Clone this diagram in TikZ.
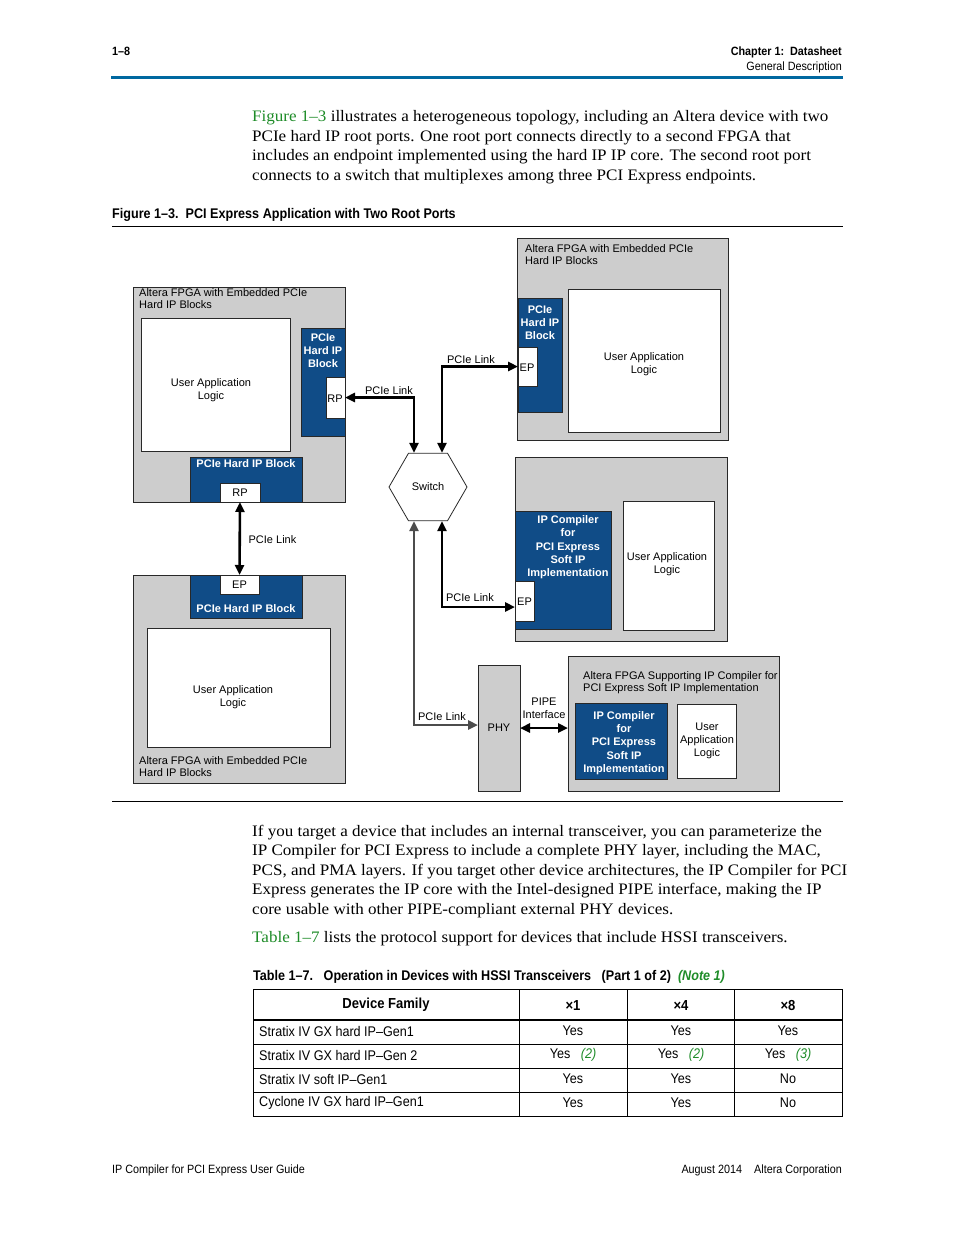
\documentclass[tikz,border=0pt]{standalone}
\usepackage{fontspec}
\setmainfont[FakeStretch=1.065]{Liberation Serif}
\newfontfamily\dsans{Liberation Sans}
\newfontfamily\cond[FakeStretch=0.9]{Liberation Sans}
\usetikzlibrary{arrows.meta,shapes.geometric,calc}
\definecolor{fpgagray}{RGB}{205,205,205}
\definecolor{ipblue}{RGB}{16,76,135}
\definecolor{linkgreen}{RGB}{30,140,40}
\definecolor{rulebl}{RGB}{0,104,160}
\definecolor{edge}{RGB}{40,40,40}
\tikzset{
  boxbase/.style={draw=edge, line width=0.8pt, inner sep=0pt, outer sep=0pt, anchor=north west},
  gbox/.style={boxbase, fill=fpgagray},
  wbox/.style={boxbase, fill=white},
  bbox/.style={boxbase, fill=ipblue},
  dtext/.style={font=\dsans\fontsize{11}{13}\selectfont, align=center, inner sep=0pt},
  ltext/.style={font=\dsans\fontsize{11}{12.6}\selectfont, align=left, inner sep=0pt, anchor=north west},
  btext/.style={font=\dsans\bfseries\fontsize{11}{13.2}\selectfont, text=white, align=center, inner sep=0pt},
  body/.style={font=\fontsize{16}{19.5}\selectfont, inner sep=0pt, anchor=base west},
  hdr/.style={font=\cond\fontsize{12}{14}\selectfont, inner sep=0pt},
  captext/.style={font=\cond\bfseries\fontsize{14}{16}\selectfont, inner sep=0pt, anchor=base west},
  ttext/.style={font=\cond\fontsize{14}{16}\selectfont, inner sep=0pt},
  thead/.style={font=\cond\bfseries\fontsize{14.5}{16}\selectfont, inner sep=0pt},
  link/.style={line width=2.6pt, {Triangle[length=10pt,width=9pt]}-{Triangle[length=10pt,width=9pt]}},
  hexsw/.style={regular polygon, regular polygon sides=6, minimum size=78pt, draw=edge, line width=0.8pt, fill=white, inner sep=0pt, font=\dsans\fontsize{11}{13}\selectfont},
  tline/.style={line width=0.8pt, draw=black},
}
\newcommand\mkbox[6]{\node[#1, minimum width={(#5-#3)*1pt}, minimum height={(#6-#4)*1pt}] (#2) at (#3,#4) {};}
\begin{document}
\begin{tikzpicture}[x=1pt,y=-1pt]
\useasboundingbox[fill=white] (0,0) rectangle (954,1235);
% header
\node[hdr, anchor=base west] (pgnum) at (112,55) {\bfseries 1–8};
\node[hdr, anchor=base east] (chap) at (842,55) {\bfseries Chapter 1:\ \ Datasheet};
\node[hdr, anchor=base east] (sect) at (842,70) {General Description};
\draw[line width=2.2pt, rulebl] (111,77.5) -- (843,77.5);
% paragraph 1
\node[body] (p1a) at (252,121.5) {\textcolor{linkgreen}{Figure 1–3} illustrates a heterogeneous topology, including an Altera device with two};
\node[body] (p1b) at (252,141) {PCIe hard IP root ports. One root port connects directly to a second FPGA that};
\node[body] (p1c) at (252,160.5) {includes an endpoint implemented using the hard IP IP core. The second root port};
\node[body] (p1d) at (252,180) {connects to a switch that multiplexes among three PCI Express endpoints.};
% caption
\node[captext] (figcap) at (112,218) {Figure 1–3.\ \ PCI Express Application with Two Root Ports};
\draw[line width=0.8pt] (112,226) -- (843,226);
\draw[line width=0.8pt] (112,801) -- (843,801);
% --- top-left FPGA
\mkbox{gbox}{fpgaA}{133}{287}{345}{502}
\mkbox{wbox}{ualA}{141}{318}{290}{451}
\mkbox{bbox}{hipA}{301}{328}{345}{436}
\mkbox{wbox}{rpA}{326}{377}{345}{418}
\mkbox{bbox}{hipA2}{190}{457}{302}{502}
\mkbox{wbox}{rpA2}{220}{483}{260}{502}
\node[ltext] (lblA) at (139,288) {Altera FPGA with Embedded PCIe\\Hard IP Blocks};
\node[dtext] (tualA) at (211,390.5) {User Application\\Logic};
\node[btext, anchor=north] (thipA) at (323,333.5) {PCIe\\Hard IP\\Block};
\node[dtext] (trpA) at (335,399) {RP};
\node[btext] (thipA2) at (246,464) {PCIe Hard IP Block};
\node[dtext] (trpA2) at (240,493) {RP};
% --- bottom-left FPGA
\mkbox{gbox}{fpgaB}{133}{575}{345}{783}
\mkbox{bbox}{hipB}{190}{575}{302}{618}
\mkbox{wbox}{epB}{220}{575}{259}{594}
\mkbox{wbox}{ualB}{147}{628}{330}{747}
\node[dtext] (tepB) at (239.5,584.5) {EP};
\node[btext] (thipB) at (246,609) {PCIe Hard IP Block};
\node[dtext] (tualB) at (233,697.5) {User Application\\Logic};
\node[ltext] (lblB) at (139,756) {Altera FPGA with Embedded PCIe\\Hard IP Blocks};
% --- top-right FPGA
\mkbox{gbox}{fpgaC}{517}{238}{728}{440}
\mkbox{bbox}{hipC}{518}{298}{562}{412}
\mkbox{wbox}{epC}{518}{347}{537}{386}
\mkbox{wbox}{ualC}{568}{289}{720}{432}
\node[ltext] (lblC) at (525,244) {Altera FPGA with Embedded PCIe\\Hard IP Blocks};
\node[btext, anchor=north] (thipC) at (540,305.5) {PCIe\\Hard IP\\Block};
\node[dtext] (tepC) at (527,368) {EP};
\node[dtext] (tualC) at (644,364.5) {User Application\\Logic};
% --- middle-right FPGA
\mkbox{gbox}{fpgaD}{515}{457}{727}{641}
\mkbox{bbox}{ipcD}{515}{511}{611}{629}
\mkbox{wbox}{epD}{515}{581}{534}{621}
\mkbox{wbox}{ualD}{623}{501}{714}{630}
\node[btext, anchor=north] (tipcD) at (568,515.5) {IP Compiler\\for\\PCI Express\\Soft IP\\Implementation};
\node[dtext] (tepD) at (524.5,602) {EP};
\node[dtext] (tualD) at (667,564.5) {User Application\\Logic};
% --- PHY and bottom-right FPGA
\mkbox{gbox}{phy}{478}{665}{520}{791}
\node[dtext] (tphy) at (499,728) {PHY};
\mkbox{gbox}{fpgaE}{568}{656}{779}{791}
\mkbox{bbox}{ipcE}{575}{703}{667}{779}
\mkbox{wbox}{ualE}{677}{704}{736}{778}
\node[ltext] (lblE) at (583,671) {Altera FPGA Supporting IP Compiler for\\PCI Express Soft IP Implementation};
\node[btext] (tipcE) at (624,743) {IP Compiler\\for\\PCI Express\\Soft IP\\Implementation};
\node[dtext] (tualE) at (707,741) {User\\Application\\Logic};
\node[dtext] (tpipe) at (544,708.5) {PIPE\\Interface};
% --- switch
\node[hexsw] (sw) at (428,487) {Switch};
% --- links
\draw[link] (rpA.east) -| ($(sw.north)+(-14,0)$);
\node[dtext] (lk1) at (389,391) {PCIe Link};
\draw[link] (epC.west) -| ($(sw.north)+(14,0)$);
\node[dtext] (lk2) at (471,360) {PCIe Link};
\draw[link] ($(epD.west)+(0,6)$) -| ($(sw.south)+(14,0)$);
\node[dtext] (lk3) at (470,598) {PCIe Link};
\draw[link, draw=black!70] ($(phy.west)+(0,-3)$) -| ($(sw.south)+(-14,0)$);
\node[dtext] (lk4) at (442,717) {PCIe Link};
\draw[link] (rpA2.south) -- (epB.north);
\node[dtext] (lk5) at (272.5,540) {PCIe Link};
\draw[link] (phy.east) -- (phy.east -| fpgaE.west);
% paragraph 2
\node[body] (p2a) at (252,836) {If you target a device that includes an internal transceiver, you can parameterize the};
\node[body] (p2b) at (252,855.5) {IP Compiler for PCI Express to include a complete PHY layer, including the MAC,};
\node[body] (p2c) at (252,875) {PCS, and PMA layers. If you target other device architectures, the IP Compiler for PCI};
\node[body] (p2d) at (252,894.5) {Express generates the IP core with the Intel-designed PIPE interface, making the IP};
\node[body] (p2e) at (252,914) {core usable with other PIPE-compliant external PHY devices.};
\node[body] (p2f) at (252,942.5) {\textcolor{linkgreen}{Table 1–7} lists the protocol support for devices that include HSSI transceivers.};
% table caption
\node[captext] (tabcap) at (253,980.5) {Table 1–7.\ \ \ Operation in Devices with HSSI Transceivers\ \ \ (Part 1 of 2)\ \ \textcolor{linkgreen}{\itshape (Note 1)}};
% table grid
\draw[tline] (253,989) rectangle (842,1116);
\draw[line width=1.6pt] (253,1020) -- (842,1020);
\foreach \yy in {1044,1068,1092} \draw[tline] (253,\yy) -- (842,\yy);
\foreach \xx in {519,627,734} \draw[tline] (\xx,989) -- (\xx,1116);
\node[thead] (th1) at (386,1005) {Device Family};
\node[thead] (th2) at (573,1005) {×1};
\node[thead] (th3) at (681,1005) {×4};
\node[thead] (th4) at (788,1005) {×8};
\node[ttext, anchor=west] (r1c1) at (259,1031) {Stratix IV GX hard IP–Gen1};
\node[ttext] (r1c2) at (573,1031) {Yes};
\node[ttext] (r1c3) at (681,1031) {Yes};
\node[ttext] (r1c4) at (788,1031) {Yes};
\node[ttext, anchor=west] (r2c1) at (259,1055) {Stratix IV GX hard IP–Gen 2};
\node[ttext] (r2c2) at (573,1055) {Yes\ \ \ \textcolor{linkgreen}{\itshape (2)}};
\node[ttext] (r2c3) at (681,1055) {Yes\ \ \ \textcolor{linkgreen}{\itshape (2)}};
\node[ttext] (r2c4) at (788,1055) {Yes\ \ \ \textcolor{linkgreen}{\itshape (3)}};
\node[ttext, anchor=west] (r3c1) at (259,1079) {Stratix IV soft IP–Gen1};
\node[ttext] (r3c2) at (573,1079) {Yes};
\node[ttext] (r3c3) at (681,1079) {Yes};
\node[ttext] (r3c4) at (788,1079) {No};
\node[ttext, anchor=west] (r4c1) at (259,1103) {Cyclone IV GX hard IP–Gen1};
\node[ttext] (r4c2) at (573,1103) {Yes};
\node[ttext] (r4c3) at (681,1103) {Yes};
\node[ttext] (r4c4) at (788,1103) {No};
% footer
\node[hdr, anchor=base west] (foot1) at (112,1173) {IP Compiler for PCI Express User Guide};
\node[hdr, anchor=base east] (foot2) at (842,1173) {August 2014\ \ \ \ Altera Corporation};
\end{tikzpicture}
\end{document}
